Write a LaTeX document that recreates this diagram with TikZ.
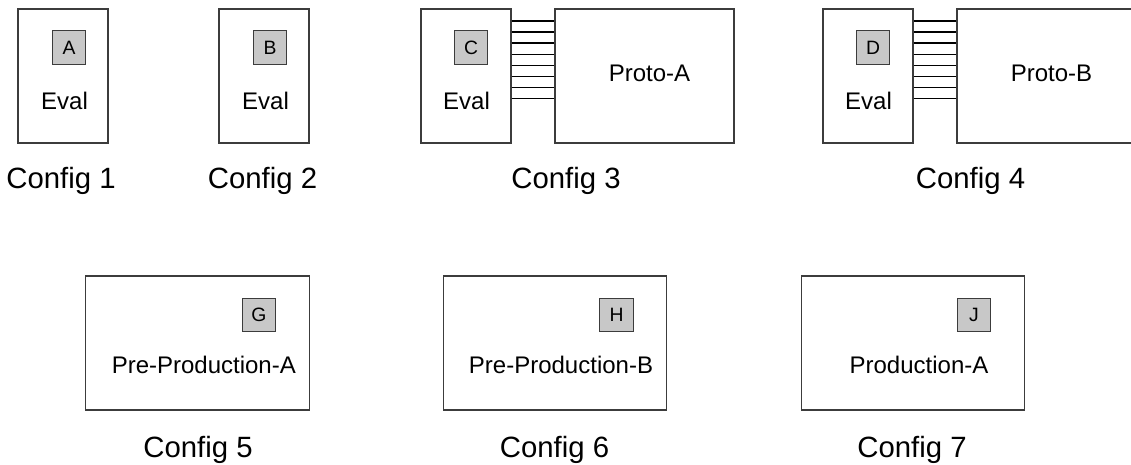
\documentclass[tikz,border=0pt]{standalone}
\usepackage{fontspec}
\setmainfont{Liberation Sans}
\definecolor{edge}{RGB}{60,60,60}
\definecolor{chipfill}{RGB}{200,200,200}
\begin{document}
\begin{tikzpicture}[x=0.75pt,y=-0.75pt,
  board/.style={draw=edge,line width=0.8pt,fill=white,inner sep=0pt},
  evalbox/.style={board,minimum width=67.5pt,minimum height=100.5pt},
  protobox/.style={board,minimum width=134.25pt,minimum height=100.5pt},
  prodbox/.style={board,minimum width=167.6pt,minimum height=100.5pt},
  chip/.style={draw=edge,line width=0.8pt,fill=chipfill,inner sep=0pt,
    minimum width=25pt,minimum height=25pt,font=\fontsize{14.5}{15}\selectfont,
    text height=10.4pt,text depth=0pt},
  lbl/.style={anchor=base,inner sep=0pt,font=\fontsize{18}{20}\selectfont},
  cfg/.style={anchor=base,inner sep=0pt,font=\fontsize{22}{24}\selectfont},
  bus/.style={draw=black,line width=1pt}]
\useasboundingbox (0,0) rectangle (1131,464);
\clip (0,0) rectangle (1131,464);
% Config 1
\node[evalbox] (e1) at (63,76) {};
\node[chip] (c1) at (69,47.5) {A};
\node[lbl] (t1) at (64.5,109) {Eval};
\node[cfg] (k1) at (61,188) {Config 1};
% Config 2
\node[evalbox] (e2) at (264,76) {};
\node[chip] (c2) at (270,47.5) {B};
\node[lbl] (t2) at (265.5,109) {Eval};
\node[cfg] (k2) at (262.5,188) {Config 2};
% Config 3
\node[evalbox] (e3) at (466,76) {};
\node[chip] (c3) at (471,47.5) {C};
\node[lbl] (t3) at (466.5,109) {Eval};
\node[protobox] (p3) at (644.5,76) {};
\node[lbl] (u3) at (649.5,81) {Proto-A};
\node[cfg] (k3) at (566,188) {Config 3};
% Config 4
\node[evalbox] (e4) at (868,76) {};
\node[chip] (c4) at (873,47.5) {D};
\node[lbl] (t4) at (868.5,109) {Eval};
\node[protobox] (p4) at (1046.5,76) {};
\node[lbl] (u4) at (1051.5,81) {Proto-B};
\node[cfg] (k4) at (970.5,188) {Config 4};
% buses
\foreach \k in {0,...,7}{
  \draw[bus] (e3.east |- 0,{21+11.07*\k}) -- (p3.west |- 0,{21+11.07*\k});
  \draw[bus] (e4.east |- 0,{21+11.07*\k}) -- (p4.west |- 0,{21+11.07*\k});
}
% Config 5
\node[prodbox] (b5) at (197.5,343) {};
\node[chip] (c5) at (259,315) {G};
\node[lbl] (t5) at (203.8,373) {Pre-Production-A};
\node[cfg] (k5) at (198,457) {Config 5};
% Config 6
\node[prodbox] (b6) at (555,343) {};
\node[chip] (c6) at (616.5,315) {H};
\node[lbl] (t6) at (561,373) {Pre-Production-B};
\node[cfg] (k6) at (554.5,457) {Config 6};
% Config 7
\node[prodbox] (b7) at (913,343) {};
\node[chip] (c7) at (974,315) {J};
\node[lbl] (t7) at (919,373) {Production-A};
\node[cfg] (k7) at (912,457) {Config 7};
\end{tikzpicture}
\end{document}
